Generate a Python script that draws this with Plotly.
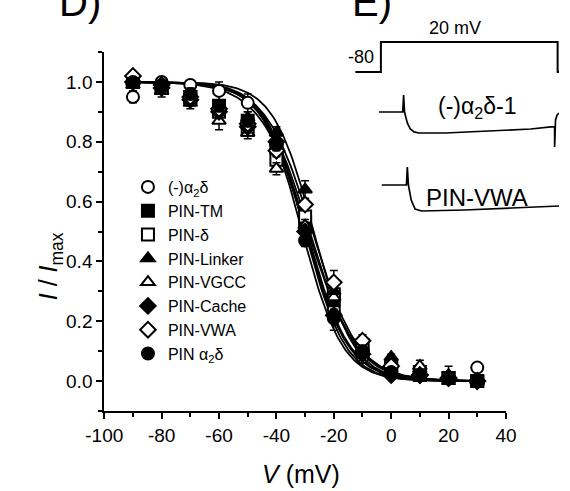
import numpy as np
import plotly.graph_objects as go

W, H = 570, 491
FONT = "Arial, Liberation Sans, sans-serif"

# ---------------- data ----------------
voltages = [-90, -80, -70, -60, -50, -40, -30, -20, -10, 0, 10, 20, 30]

names = ["(-)α<sub>2</sub>δ", "PIN-TM", "PIN-δ", "PIN-Linker",
         "PIN-VGCC", "PIN-Cache", "PIN-VWA", "PIN α<sub>2</sub>δ"]

neg_a2d = [0.95, 1.00, 0.99, 0.97, 0.93, 0.79, 0.51, 0.24, 0.08, 0.04, 0.02, 0.01, 0.045]
pin_tm = [1.00, 0.98, 0.95, 0.92, 0.87, 0.78, 0.53, 0.27, 0.10, 0.04, 0.02, 0.01, 0.00]
pin_delta = [1.00, 0.98, 0.95, 0.90, 0.84, 0.74, 0.55, 0.29, 0.12, 0.05, 0.03, 0.01, 0.00]
pin_linker = [1.00, 0.99, 0.95, 0.92, 0.88, 0.83, 0.64, 0.30, 0.10, 0.08, 0.04, 0.01, 0.00]
pin_vgcc = [0.99, 0.97, 0.93, 0.87, 0.83, 0.71, 0.52, 0.28, 0.11, 0.06, 0.05, 0.02, 0.00]
pin_cache = [1.00, 0.98, 0.94, 0.90, 0.85, 0.80, 0.50, 0.22, 0.09, 0.02, 0.02, 0.01, 0.00]
pin_vwa = [1.02, 0.99, 0.95, 0.91, 0.86, 0.77, 0.59, 0.33, 0.135, 0.05, 0.02, 0.01, 0.00]
pin_a2d = [1.00, 0.99, 0.96, 0.92, 0.87, 0.79, 0.47, 0.21, 0.10, 0.03, 0.02, 0.01, 0.00]

err_neg_a2d = [0.02, 0.01, 0.01, 0.03, 0.03, 0.02, 0.02, 0.02, 0.02, 0.01, 0.01, 0.01, 0.01]
err_pin_tm = [0.01, 0.01, 0.02, 0.02, 0.02, 0.02, 0.02, 0.02, 0.02, 0.01, 0.01, 0.01, 0.01]
err_pin_delta = [0.01, 0.02, 0.02, 0.02, 0.02, 0.02, 0.02, 0.02, 0.02, 0.01, 0.01, 0.01, 0.01]
err_pin_linker = [0.01, 0.01, 0.02, 0.02, 0.02, 0.02, 0.03, 0.02, 0.02, 0.01, 0.01, 0.01, 0.01]
err_pin_vgcc = [0.02, 0.02, 0.02, 0.03, 0.02, 0.02, 0.02, 0.02, 0.02, 0.01, 0.02, 0.03, 0.02]
err_pin_cache = [0.01, 0.01, 0.02, 0.02, 0.02, 0.02, 0.02, 0.02, 0.02, 0.01, 0.01, 0.01, 0.01]
err_pin_vwa = [0.01, 0.01, 0.02, 0.02, 0.02, 0.02, 0.02, 0.04, 0.02, 0.01, 0.01, 0.02, 0.01]
err_pin_a2d = [0.01, 0.01, 0.02, 0.02, 0.02, 0.02, 0.02, 0.04, 0.02, 0.01, 0.01, 0.01, 0.01]

# Boltzmann fit parameters
v_half = [-30.0, -29.5, -28.5, -27.0, -29.0, -30.0, -27.5, -31.0]
slope_k = [7.5, 7.5, 8.0, 7.0, 8.5, 7.0, 8.0, 7.0]

symbols = ["circle", "square", "square", "triangle-up", "triangle-up",
           "diamond", "diamond", "circle"]
filled = [False, True, False, True, False, True, False, True]

x_ticks = [-100, -80, -60, -40, -20, 0, 20, 40]
x_ticktext = ["-100", "-80", "-60", "-40", "-20", "0", "20", "40"]
y_ticks = [0.0, 0.2, 0.4, 0.6, 0.8, 1.0]
y_ticktext = ["0.0", "0.2", "0.4", "0.6", "0.8", "1.0"]

# inset E: voltage protocol (ms, mV) and two current traces (ms, normalised)
proto_t = [-14.5, 0, 0, 100.3, 100.3, 101.1]
proto_v = [-80, -80, 20, 20, -80, -80]

trace1_t = [-1.1, 12.4, 12.9, 13.4, 15.0, 16.7, 18.8, 21.5, 36.6, 63.4, 85.0, 96.5, 98.6, 98.6, 99.1, 100.0, 101.1]
trace1_i = [0.0, 0.0, 0.81, 0.0, -0.52, -0.81, -0.95, -1.0, -1.0, -0.90, -0.81, -0.71, -0.71, -1.67, -0.38, -0.14, -0.05]

trace2_t = [0.5, 14.5, 15.0, 15.6, 17.2, 19.4, 23.1, 47.3, 74.2, 101.1]
trace2_i = [0.0, 0.0, 0.72, 0.0, -0.6, -0.96, -1.04, -1.0, -0.92, -0.84]

series = [neg_a2d, pin_tm, pin_delta, pin_linker, pin_vgcc, pin_cache, pin_vwa, pin_a2d]
errors = [err_neg_a2d, err_pin_tm, err_pin_delta, err_pin_linker, err_pin_vgcc,
          err_pin_cache, err_pin_vwa, err_pin_a2d]

# ---------------- figure ----------------
def px_x(p):
    return p / W

def px_y(p):
    return (H - p) / H

fig = go.Figure()

vgrid = np.linspace(-90, 30, 241)
for vh, k in zip(v_half, slope_k):
    fig.add_trace(go.Scatter(
        x=vgrid, y=1.0 / (1.0 + np.exp((vgrid - vh) / k)),
        mode="lines", line=dict(color="black", width=1.8),
        showlegend=False, hoverinfo="skip"))

for name, ys, es, sym, fl in zip(names, series, errors, symbols, filled):
    fig.add_trace(go.Scatter(
        x=voltages, y=ys, mode="markers", name=name,
        marker=dict(symbol=sym, size=12,
                    color="black" if fl else "white",
                    line=dict(color="black", width=2)),
        error_y=dict(type="data", array=es, visible=True,
                     color="black", thickness=1.5, width=4)))

# inset traces
fig.add_trace(go.Scatter(x=proto_t, y=proto_v, mode="lines", xaxis="x2", yaxis="y2",
                         line=dict(color="black", width=2), showlegend=False))
fig.add_trace(go.Scatter(x=trace1_t, y=trace1_i, mode="lines", xaxis="x2", yaxis="y3",
                         line=dict(color="black", width=1.7), showlegend=False))
fig.add_trace(go.Scatter(x=trace2_t, y=trace2_i, mode="lines", xaxis="x2", yaxis="y4",
                         line=dict(color="black", width=1.7), showlegend=False))

axis_common = dict(showline=True, linecolor="black", linewidth=2, mirror=False,
                   ticks="outside", ticklen=6, tickwidth=2, tickcolor="black",
                   showgrid=False, zeroline=False,
                   tickfont=dict(family=FONT, size=19, color="black"))

fig.update_layout(
    width=W, height=H, autosize=False,
    margin=dict(l=0, r=0, t=0, b=0),
    paper_bgcolor="white", plot_bgcolor="rgba(0,0,0,0)",
    font=dict(family=FONT, color="black"),
    xaxis=dict(domain=[px_x(90), px_x(514)], range=[-100, 40],
               tickvals=x_ticks, ticktext=x_ticktext, anchor="y",
               minor=dict(dtick=10, tick0=-100, ticks="outside", ticklen=4,
                          tickwidth=2, tickcolor="black"),
               **axis_common),
    yaxis=dict(domain=[px_y(411), px_y(52)], range=[-0.1, 1.1],
               tickvals=y_ticks, ticktext=y_ticktext, anchor="x",
               minor=dict(dtick=0.1, tick0=-0.1, ticks="outside", ticklen=4,
                          tickwidth=2, tickcolor="black"),
               **axis_common),
    xaxis2=dict(domain=[px_x(352), 1.0], range=[-16.13, 101.08], visible=False,
                anchor="y2"),
    yaxis2=dict(domain=[px_y(90), px_y(30)], range=[-140, 60], visible=False,
                anchor="x2"),
    yaxis3=dict(domain=[px_y(152), px_y(88)], range=[-1.905, 1.143], visible=False,
                anchor="x2"),
    yaxis4=dict(domain=[px_y(225), px_y(160)], range=[-1.6, 1.0], visible=False,
                anchor="x2"),
    legend=dict(x=px_x(115), y=px_y(170), xanchor="left", yanchor="top",
                bgcolor="rgba(0,0,0,0)", font=dict(family=FONT, size=16, color="black"),
                tracegroupgap=0, itemwidth=30),
    showlegend=True,
)

def ann(text, x, y, size, xanchor="center", yanchor="middle", textangle=0):
    fig.add_annotation(text=text, x=px_x(x), y=px_y(y), xref="paper", yref="paper",
                       showarrow=False, xanchor=xanchor, yanchor=yanchor,
                       textangle=textangle,
                       font=dict(family=FONT, size=size, color="black"))

ann("<i>V</i> (mV)", 298, 474, 25)
ann("<i>I</i> / <i>I</i><sub>max</sub>", 33, 266, 25, textangle=-90)
ann("D)", 64, 2, 40)
ann("E)", 373, 2, 40)
ann("20 mV", 460, 28, 18)
ann("-80", 377, 57, 18, xanchor="right")
ann("(-)α<sub>2</sub>δ-1", 484, 107, 23)
ann("PIN-VWA", 483, 197, 24)

fig.write_html("out.html", config={"displayModeBar": False},
               post_script="document.body.style.margin='0';")
